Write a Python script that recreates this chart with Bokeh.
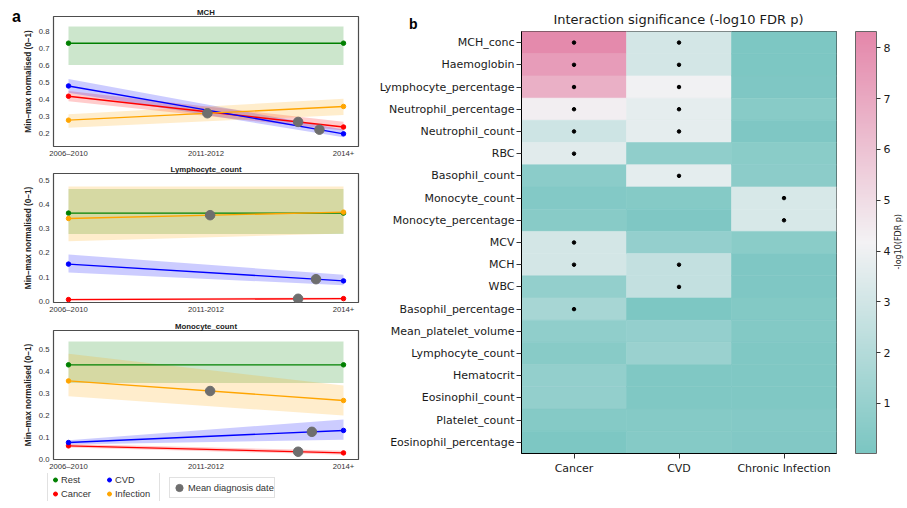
import numpy as np
from bokeh.plotting import figure
from bokeh.layouts import row, column
from bokeh.models import (Range1d, FixedTicker, Legend, LegendItem, Div,
                          LinearColorMapper, ColorBar, ColumnDataSource, NumeralTickFormatter)
from bokeh.embed import file_html
from bokeh.resources import INLINE

# ---------------- data: panel a ----------------
periods = ["2006–2010", "2011-2012", "2014+"]
period_pos = [0, 1, 2]
end_idx = [0, 2]
groups = ["Rest", "Cancer", "CVD", "Infection"]
group_colors = {"Rest": "green", "Cancer": "red", "CVD": "blue", "Infection": "orange"}
diag_groups = ["Infection", "Cancer", "CVD"]
diag_label = "Mean diagnosis date"

mch_mean = {"Rest": [0.73, 0.73], "Cancer": [0.42, 0.24], "CVD": [0.48, 0.20], "Infection": [0.28, 0.36]}
mch_lo = {"Rest": [0.603, 0.603], "Cancer": [0.39, 0.22], "CVD": [0.44, 0.18], "Infection": [0.235, 0.31]}
mch_hi = {"Rest": [0.828, 0.828], "Cancer": [0.45, 0.27], "CVD": [0.52, 0.225], "Infection": [0.315, 0.405]}
mch_diag = {"Infection": 1.01, "Cancer": 1.67, "CVD": 1.825}

lym_mean = {"Rest": [0.364, 0.364], "Cancer": [0.008, 0.012], "CVD": [0.154, 0.085], "Infection": [0.342, 0.368]}
lym_lo = {"Rest": [0.278, 0.278], "Cancer": [0.004, 0.008], "CVD": [0.12, 0.067], "Infection": [0.248, 0.28]}
lym_hi = {"Rest": [0.463, 0.463], "Cancer": [0.012, 0.017], "CVD": [0.194, 0.11], "Infection": [0.474, 0.474]}
lym_diag = {"Infection": 1.03, "Cancer": 1.67, "CVD": 1.80}

mon_mean = {"Rest": [0.43, 0.43], "Cancer": [0.062, 0.03], "CVD": [0.077, 0.132], "Infection": [0.357, 0.268]}
mon_lo = {"Rest": [0.348, 0.348], "Cancer": [0.054, 0.022], "CVD": [0.068, 0.09], "Infection": [0.287, 0.2]}
mon_hi = {"Rest": [0.536, 0.536], "Cancer": [0.07, 0.04], "CVD": [0.088, 0.182], "Infection": [0.48, 0.336]}
mon_diag = {"Infection": 1.03, "Cancer": 1.67, "CVD": 1.77}

# ---------------- data: panel b ----------------
hm_rows = ["MCH_conc", "Haemoglobin", "Lymphocyte_percentage", "Neutrophil_percentage",
           "Neutrophil_count", "RBC", "Basophil_count", "Monocyte_count", "Monocyte_percentage",
           "MCV", "MCH", "WBC", "Basophil_percentage", "Mean_platelet_volume", "Lymphocyte_count",
           "Hematocrit", "Eosinophil_count", "Platelet_count", "Eosinophil_percentage"]
hm_cols = ["Cancer", "CVD", "Chronic Infection"]
cancer_vals = [8.2, 7.5, 6.7, 4.3, 2.85, 3.55, 0.58, 0.33, 0.5, 3.05, 3.05, 0.86, 1.56, 0.75, 0.5, 0.85, 0.85, 0.4, 0.1]
cvd_vals = [3.05, 3.05, 4.1, 3.7, 3.7, 0.75, 3.65, 0.4, 0.15, 0.9, 2.5, 2.5, 0.1, 0.9, 1.1, 0.2, 0.2, 0.4, 0.4]
ci_vals = [0.1, 0.1, 0.15, 0.5, 0.15, 0.55, 0.6, 3.2, 3.2, 0.55, 0.15, 0.15, 0.3, 0.3, 0.2, 0.2, 0.2, 0.35, 0.25]
cancer_sig = [1, 1, 1, 1, 1, 1, 0, 0, 0, 1, 1, 0, 1, 0, 0, 0, 0, 0, 0]
cvd_sig = [1, 1, 1, 1, 1, 0, 1, 0, 0, 0, 1, 1, 0, 0, 0, 0, 0, 0, 0]
ci_sig = [0, 0, 0, 0, 0, 0, 0, 1, 1, 0, 0, 0, 0, 0, 0, 0, 0, 0, 0]
cbar_low, cbar_high = 0.015, 8.32
cbar_ticks = [1, 2, 3, 4, 5, 6, 7, 8]
hm_title = "Interaction significance (-log10 FDR p)"
cbar_label = "-log10(FDR p)"

SANS = "Liberation Sans"
DJ = "DejaVu Sans"
PW = 352  # width of panel-a figures
DIAG_COLOR = "#6e6e6e"


def line_panel(title, means, los, his, diag, y_lo, y_hi, yticks, fh, bt, bb):
    fw = 305
    p = figure(frame_width=fw, frame_height=fh, x_range=Range1d(-0.109, 2.109),
               y_range=Range1d(y_lo, y_hi), output_backend="svg", toolbar_location=None,
               min_border_left=33, min_border_right=14, min_border_top=bt, min_border_bottom=bb)
    p.outline_line_color = "#4d4d4d"
    p.outline_line_width = 1.2
    p.xgrid.visible = False
    p.ygrid.visible = False
    xs = [period_pos[i] for i in end_idx]
    for g in groups:
        p.varea(x=xs, y1=los[g], y2=his[g], fill_color=group_colors[g], fill_alpha=0.2)
    for g in groups:
        p.line(xs, means[g], line_color=group_colors[g], line_width=1.4)
        p.scatter(xs, means[g], size=4.5, color=group_colors[g])
    dx = [diag[g] for g in diag_groups]
    dy = [float(np.interp(diag[g], xs, means[g])) for g in diag_groups]
    p.scatter(dx, dy, size=9.5, color=DIAG_COLOR)

    for ax in (p.xaxis[0], p.yaxis[0]):
        ax.axis_line_color = None
        ax.major_tick_out = 0
        ax.major_tick_in = 0
        ax.minor_tick_out = 0
        ax.minor_tick_in = 0
        ax.major_label_text_font = SANS
        ax.major_label_text_font_size = "7.7px"
        ax.major_label_text_color = "#333333"
        ax.major_label_standoff = 2
    p.xaxis.ticker = FixedTicker(ticks=period_pos)
    p.xaxis.major_label_overrides = {pos: lab for pos, lab in zip(period_pos, periods)}
    p.yaxis.ticker = FixedTicker(ticks=yticks)
    p.yaxis.formatter = NumeralTickFormatter(format="0.0")
    p.yaxis.major_label_standoff = 4
    p.yaxis.axis_label = "Min–max normalised (0–1)"
    p.yaxis.axis_label_text_font = SANS
    p.yaxis.axis_label_text_font_size = "8.2px"
    p.yaxis.axis_label_text_font_style = "bold"
    p.yaxis.axis_label_text_color = "#222222"
    p.yaxis.axis_label_standoff = 3
    p.title.text = title
    p.title.align = "center"
    p.title.text_font = SANS
    p.title.text_font_size = "7.8px"
    p.title.text_font_style = "bold"
    p.title.text_color = "#222222"
    p.title.standoff = 0
    return p


p1 = line_panel("MCH", mch_mean, mch_lo, mch_hi, mch_diag, 0.126, 0.886,
                [0.2, 0.3, 0.4, 0.5, 0.6, 0.7, 0.8], 130, 16, 12)
p2 = line_panel("Lymphocyte_count", lym_mean, lym_lo, lym_hi, lym_diag, -0.004, 0.527,
                [0.0, 0.1, 0.2, 0.3, 0.4, 0.5], 129, 13, 12)
p3 = line_panel("Monocyte_count", mon_mean, mon_lo, mon_hi, mon_diag, 0.0, 0.586,
                [0.0, 0.1, 0.2, 0.3, 0.4, 0.5], 129, 14, 13)

# legend strip under panel a: hidden proxy renderers (real data, not drawn) carry the legend glyphs
LW = 20 + PW
pl = figure(width=LW, height=28, x_range=Range1d(0, 1), y_range=Range1d(0, 1),
            x_axis_type=None, y_axis_type=None, output_backend="svg", toolbar_location=None,
            min_border=0, min_border_left=0, min_border_right=0, min_border_top=0,
            min_border_bottom=0, outline_line_color=None)
pl.xgrid.visible = False
pl.ygrid.visible = False
xs_end = [period_pos[i] for i in end_idx]
leg_r = {g: pl.scatter(xs_end, mon_mean[g], color=group_colors[g], visible=False) for g in groups}
diag_r = pl.scatter([mon_diag[g] for g in diag_groups], [0.0] * len(diag_groups),
                    color=DIAG_COLOR, visible=False)
leg_kw = dict(border_line_color="#c4c4c4", border_line_width=1, background_fill_color="white",
              label_text_font=SANS, label_text_font_size="9.3px", label_text_color="#333333",
              margin=0, inactive_fill_alpha=0.0)
leg1 = Legend(items=[LegendItem(label=g, renderers=[leg_r[g]]) for g in groups],
              orientation="vertical", nrows=2, location=(47, -2), glyph_width=10, glyph_height=13,
              label_height=13, label_width=42, label_standoff=1, spacing=1, padding=2, **leg_kw)
leg2 = Legend(items=[LegendItem(label=diag_label, renderers=[diag_r])],
              location=(169, 3), glyph_width=18, glyph_height=19, label_height=12,
              label_standoff=0, padding=0, **leg_kw)
pl.add_layout(leg1)
pl.add_layout(leg2)

# ---------------- heatmap ----------------
def lerp_palette(stops, n=256):
    out = []
    for t in np.linspace(0, 1, n):
        if t <= 0.5:
            a, b, u = stops[0], stops[1], t / 0.5
        else:
            a, b, u = stops[1], stops[2], (t - 0.5) / 0.5
        c = [int(round(a[k] + (b[k] - a[k]) * u)) for k in range(3)]
        out.append("#%02x%02x%02x" % tuple(c))
    return out


palette = lerp_palette([(123, 198, 194), (243, 242, 244), (228, 135, 170)])
mapper = LinearColorMapper(palette=palette, low=cbar_low, high=cbar_high)

cells = dict(col=[], row=[], val=[])
dots = dict(col=[], row=[])
for cname, vals, sig in zip(hm_cols, [cancer_vals, cvd_vals, ci_vals], [cancer_sig, cvd_sig, ci_sig]):
    for rname, v, s in zip(hm_rows, vals, sig):
        cells["col"].append(cname)
        cells["row"].append(rname)
        cells["val"].append(v)
        if s:
            dots["col"].append(cname)
            dots["row"].append(rname)

fw, fh = 315, 422
HR = 56
ph = figure(frame_width=fw, frame_height=fh, x_range=hm_cols, y_range=list(reversed(hm_rows)),
            output_backend="svg", toolbar_location=None,
            min_border_left=149, min_border_right=HR, min_border_top=1, min_border_bottom=53)
ph.rect(x="col", y="row", width=1, height=1, source=ColumnDataSource(cells),
        fill_color={"field": "val", "transform": mapper},
        line_color={"field": "val", "transform": mapper}, line_width=0.6)
ph.scatter(x="col", y="row", source=ColumnDataSource(dots), size=3.5, color="black")
ph.xgrid.visible = False
ph.ygrid.visible = False
ph.outline_line_color = "#333333"
ph.outline_line_width = 1
for ax in (ph.xaxis[0], ph.yaxis[0]):
    ax.axis_line_color = "black"
    ax.axis_line_width = 1
    ax.major_tick_out = 5
    ax.major_tick_in = 0
    ax.minor_tick_out = 0
    ax.major_tick_line_color = "#333333"
    ax.major_label_text_font = DJ
    ax.major_label_text_font_size = "11px"
    ax.major_label_text_color = "#1a1a1a"
    ax.major_label_standoff = 2
ph.xaxis.major_label_standoff = 3

cb = ColorBar(color_mapper=mapper, ticker=FixedTicker(ticks=cbar_ticks), width=21, height=fh,
              location=(334, 0), padding=0, margin=0, major_tick_out=4, major_tick_in=0,
              major_tick_line_color="#333333", bar_line_color="#666666", label_standoff=3,
              major_label_text_font=DJ, major_label_text_font_size="11px",
              major_label_text_color="#1a1a1a", background_fill_color=None)
ph.add_layout(cb)

HW = 149 + fw + HR
div_b = Div(width=HW, height=30, margin=0, text=(
    f'<div style="position:relative;width:{HW}px;height:30px;overflow:visible;">'
    f'<span style="position:absolute;left:37px;top:17px;font-family:\'{SANS}\';font-weight:bold;'
    f'font-size:14px;line-height:14px;color:black;">b</span>'
    f'<div style="position:absolute;left:149px;top:12px;width:{fw}px;text-align:center;'
    f'font-family:\'{DJ}\';font-size:13px;line-height:15px;color:#1a1a1a;white-space:nowrap;">{hm_title}</div>'
    '</div>'))
div_a = Div(width=20, height=460, margin=0, text=(
    '<div style="position:relative;width:20px;height:460px;">'
    f'<span style="position:absolute;left:12px;top:9px;font-family:\'{SANS}\';font-weight:bold;'
    'font-size:16px;line-height:16px;color:black;">a</span></div>'))
div_cb = Div(width=14, height=506, margin=0, text=(
    '<div style="position:relative;width:14px;height:506px;">'
    f'<div style="position:absolute;left:0;top:31px;width:14px;height:{fh}px;display:flex;'
    'align-items:center;justify-content:center;">'
    f'<span style="writing-mode:vertical-rl;transform:rotate(180deg);font-family:\'{DJ}\';'
    f'font-size:8px;color:#1a1a1a;white-space:nowrap;">{cbar_label}</span></div></div>'))

left_block = column(row(div_a, column(p1, p2, p3)), pl)
layout = row(left_block, column(div_b, ph), div_cb)
open("out.html", "w").write(file_html(layout, INLINE))
